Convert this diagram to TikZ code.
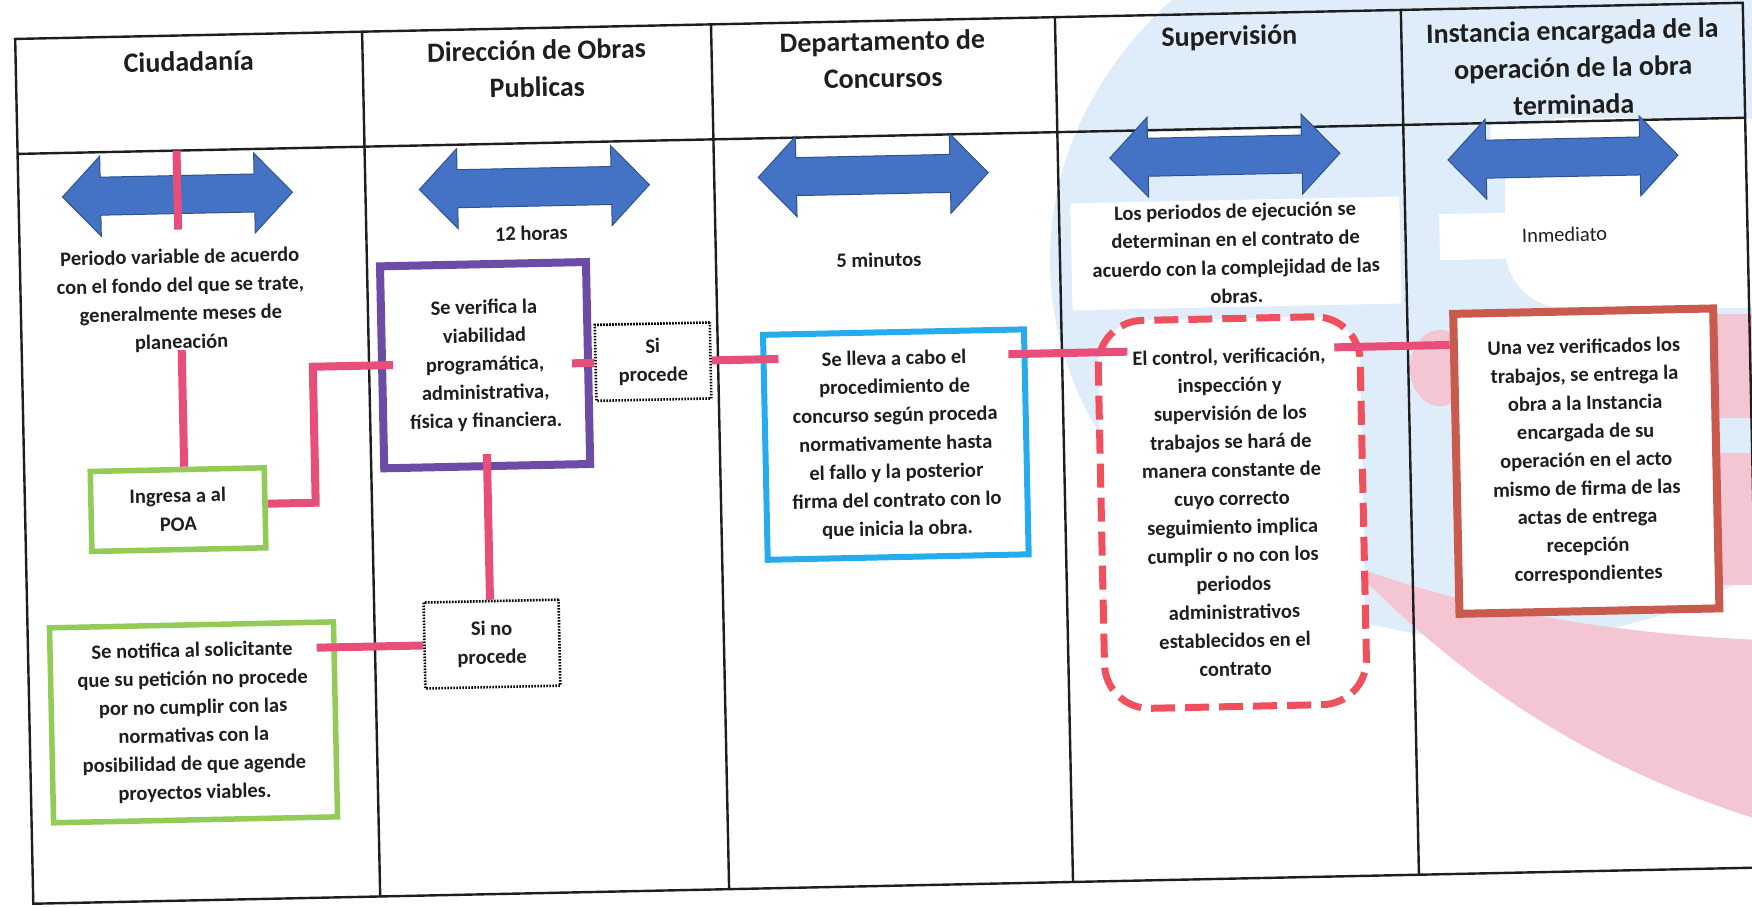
\documentclass[tikz,border=0pt]{standalone}
\usepackage{fontspec}
\setmainfont{Carlito}
\usetikzlibrary{calc}
\definecolor{wmblue}{RGB}{222,237,249}
\definecolor{wmpink}{RGB}{244,198,212}
\definecolor{arrblue}{RGB}{68,114,196}
\definecolor{arredge}{RGB}{47,82,143}
\definecolor{linkpink}{RGB}{232,78,122}
\definecolor{boxgreen}{RGB}{146,204,86}
\definecolor{boxpurple}{RGB}{108,76,165}
\definecolor{boxblue}{RGB}{38,172,236}
\definecolor{boxred}{RGB}{240,80,92}
\definecolor{boxbrick}{RGB}{200,90,78}
\definecolor{ink}{RGB}{30,30,30}
\newcommand\hdrfont{\fontsize{28}{37}\selectfont\bfseries}
\newcommand\txtfont{\fontsize{20.5}{28.4}\selectfont\bfseries}
\newcommand\regfont{\fontsize{20.5}{28.4}\selectfont}
\tikzset{
  dblarr/.pic={\filldraw[fill=arrblue, draw=arredge, line width=1pt]
     (-115,0) -- (-77,-40) -- (-77,-19) -- (77,-19) -- (77,-40) -- (115,0)
     -- (77,40) -- (77,19) -- (-77,19) -- (-77,40) -- cycle;}
}
\begin{document}
\begin{tikzpicture}[x=1pt,y=-1pt,
  grid/.style={line width=2.4pt, draw=ink},
  hdr/.style={font=\hdrfont, align=center, anchor=north, inner sep=0pt, text=ink},
  txt/.style={font=\txtfont, align=center, inner sep=0pt, text=ink},
  box/.style={font=\txtfont, align=center, fill=white, inner sep=0pt, text=ink},
  greenbox/.style={box, draw=boxgreen, line width=5.5pt},
  dotbox/.style={box, draw=black, line width=2.6pt, dash pattern=on 1.6pt off 1.4pt},
  conn/.style={draw=linkpink, line width=8pt}
]
\useasboundingbox (0,0) rectangle (1752,907);
\clip (0,0) rectangle (1752,907);
\fill[white] (0,0) rectangle (1752,907);
% watermark (page background)
\fill[wmblue] (1500,260) ellipse [x radius=450, y radius=380];
\fill[white, rounded corners=60pt] (1505,118) rectangle (1800,308);
\fill[wmpink] (1440,368) ellipse [x radius=30, y radius=38];
\fill[wmpink] (1600,314) rectangle (1760,418);
\fill[wmpink] (1600,453) rectangle (1760,585);
\fill[wmpink] (1350,565) .. controls (1470,690) and (1600,770) .. (1760,820)
   -- (1760,640) .. controls (1650,635) and (1500,620) .. (1350,565) -- cycle;

\begin{scope}[rotate around={1.2:(876,453)}, transform shape]
% table
\draw[grid] (24,21) rectangle (1752,886);
\draw[grid] (24,136) -- (1752,136);
\foreach \cx in {371,720,1064,1410} \draw[grid] (\cx,21) -- (\cx,886);
% white patches behind arrows
\fill[white] (1155,138) rectangle (1305,150);
\fill[white] (1497,138) rectangle (1645,156);
% headers
\node[hdr] (hd1) at (197,37) {Ciudadanía};
\node[hdr] (hd2) at (545,33) {Dirección de Obras\\Publicas};
\node[hdr] (hd3) at (891,31) {Departamento de\\Concursos};
\node[hdr] (hd4) at (1238,33) {Supervisión};
\node[hdr] (hd5) at (1581,35) {Instancia encargada de la\\operación de la obra\\terminada};
% arrows
\pic at (183,180) {dblarr};
\pic at (540,180) {dblarr};
\pic at (879,175) {dblarr};
\pic at (1231,163) {dblarr};
\pic at (1569,172) {dblarr};
% time labels
\node[txt] (periodo) at (184,286) {Periodo variable de acuerdo\\con el fondo del que se trate,\\generalmente meses de\\planeación};
\node[txt] (horas) at (536,226) {12 horas};
\node[txt] (minutos) at (883,260) {5 minutos};
\node[box, minimum width=329pt, minimum height=107pt] (supt) at (1240,261) {Los periodos de ejecución se\\determinan en el contrato de\\acuerdo con la complejidad de las\\obras.};
\node[box, font=\regfont, minimum width=250pt, minimum height=46pt] (inm) at (1569,249) {Inmediato};
% process boxes
\node[greenbox, minimum width=174pt, minimum height=80pt] (ingresa) at (177,495) {Ingresa a al\\POA};
\node[box, draw=boxpurple, line width=8pt, minimum width=206pt, minimum height=202pt] (pb) at (487,357) {Se verifica la\\viabilidad\\programática,\\administrativa,\\física y financiera.};
\node[dotbox, minimum width=115pt, minimum height=76pt] (sip) at (655,357) {Si\\procede};
\node[box, draw=boxblue, line width=6pt, minimum width=261pt, minimum height=225pt] (bb) at (896,445) {Se lleva a cabo el\\procedimiento de\\concurso según proceda\\normativamente hasta\\el fallo y la posterior\\firma del contrato con lo\\que inicia la obra.};
\node[box, draw=boxred, line width=7pt, dash pattern=on 24pt off 10pt, rounded corners=45pt, minimum width=262pt, minimum height=388pt] (rb) at (1231,520) {El control, verificación,\\inspección y\\supervisión de los\\trabajos se hará de\\manera constante de\\cuyo correcto\\seguimiento implica\\cumplir o no con los\\periodos\\administrativos\\establecidos en el\\contrato};
\node[box, draw=boxbrick, line width=8pt, minimum width=260pt, minimum height=300pt] (ib) at (1586,476) {Una vez verificados los\\trabajos, se entrega la\\obra a la Instancia\\encargada de su\\operación en el acto\\mismo de firma de las\\actas de entrega\\recepción\\correspondientes};
\node[dotbox, minimum width=135pt, minimum height=86pt] (sino) at (488,636) {Si no\\procede};
\node[greenbox, minimum width=284pt, minimum height=195pt] (senot) at (188,708) {Se notifica al solicitante\\que su petición no procede\\por no cumplir con las\\normativas con la\\posibilidad de que agende\\proyectos viables.};
% connectors
\coordinate (ptop) at (183,136);
\coordinate (pbot) at (183,215);
\draw[conn] (ptop) -- (pbot);
\draw[conn, shorten <=-2pt] (periodo.south) -- (periodo.south |- ingresa.north);
\draw[conn] ([yshift=4pt]ingresa.east) -- ++(48,0) |- ([xshift=15pt,yshift=2pt]pb.west);
\draw[conn, shorten <=-20pt] (pb.east) -- (sip.west);
\draw[conn, shorten >=-18pt] (sip.east) -- (sip.east -| bb.west);
\draw[conn, shorten <=-19pt, shorten >=-33pt] (bb.east |- sip) -- (rb.west |- sip);
\draw[conn, shorten <=-29pt] (rb.east |- sip) -- (ib.west |- sip);
\draw[conn, shorten <=-16pt] (pb.south) -- (pb.south |- sino.north);
\draw[conn, shorten >=-20pt] (sino.west) -- (sino.west -| senot.east);
\end{scope}
\end{tikzpicture}
\end{document}
